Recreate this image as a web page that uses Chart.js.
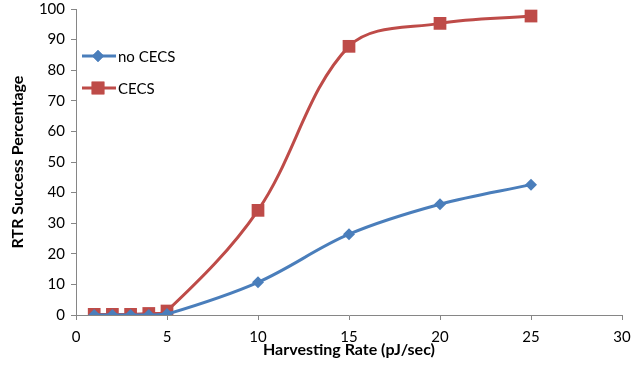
<!DOCTYPE html>
<html>
<head>
<meta charset="utf-8">
<script src="https://cdn.jsdelivr.net/npm/chart.js@4"></script>
<style>
  html, body { margin: 0; padding: 0; background: #fff; }
  #wrap { width: 631px; height: 366px; position: relative; }
</style>
</head>
<body>
<div id="wrap"><canvas id="grafico" width="631" height="366"></canvas></div>
<script>
// datos
const harvestRates = [1, 2, 3, 4, 5, 10, 15, 20, 25];
const noCecs = [0, 0, 0, 0, 0.3, 10.7, 26.4, 36.2, 42.6];
const cecs = [0.2, 0.2, 0.2, 0.5, 1.3, 34.2, 87.8, 95.3, 97.7];
const seriesNames = ['no CECS', 'CECS'];
const xTitle = 'Harvesting Rate (pJ/sec)';
const yTitle = 'RTR Success Percentage';

const BLUE = '#4A7EBB';
const RED = '#BE4B48';
const AXIS = '#868686';
const FONT = 'Lato, "Open Sans", sans-serif';

function toPoints(ys) {
    return harvestRates.map((x, i) => ({ x: x, y: ys[i] }));
}

// leyenda dibujada dentro del area del grafico
const leyendaInterior = {
    id: 'leyendaInterior',
    afterDraw(chart) {
        const ctx = chart.ctx;
        const items = [
            { label: seriesNames[0], color: BLUE, style: 'rectRot', radius: 6, y: 56 },
            { label: seriesNames[1], color: RED, style: 'rect', radius: 9, y: 88 }
        ];
        ctx.save();
        items.forEach(it => {
            ctx.strokeStyle = it.color;
            ctx.lineWidth = 3;
            ctx.beginPath();
            ctx.moveTo(82, it.y);
            ctx.lineTo(116, it.y);
            ctx.stroke();
            ctx.fillStyle = it.color;
            Chart.helpers.drawPoint(ctx, { pointStyle: it.style, radius: it.radius, borderWidth: 0, rotation: 0 }, 98, it.y);
            ctx.fill();
            ctx.fillStyle = '#000';
            ctx.font = '15px ' + FONT;
            ctx.textBaseline = 'middle';
            ctx.textAlign = 'left';
            ctx.fillText(it.label, 118, it.y + 1);
        });
        ctx.restore();
    }
};

new Chart(document.getElementById('grafico').getContext('2d'), {
    type: 'line',
    data: {
        datasets: [{
            label: seriesNames[0],
            data: toPoints(noCecs),
            borderColor: BLUE,
            backgroundColor: BLUE,
            borderWidth: 3,
            pointStyle: 'rectRot',
            pointRadius: 6,
            pointBorderWidth: 0,
            tension: 0.35,
            fill: false
        }, {
            label: seriesNames[1],
            data: toPoints(cecs),
            borderColor: RED,
            backgroundColor: RED,
            borderWidth: 3,
            pointStyle: 'rect',
            pointRadius: 9,
            pointBorderWidth: 0,
            tension: 0.35,
            fill: false
        }]
    },
    options: {
        responsive: false,
        animation: false,
        layout: { padding: { top: 0, right: 4, left: 0, bottom: 0 } },
        scales: {
            x: {
                type: 'linear',
                min: 0, max: 30,
                ticks: { stepSize: 5, color: '#000', font: { family: FONT, size: 15 }, padding: 8, maxRotation: 0 },
                grid: { drawOnChartArea: false, drawTicks: true, tickLength: 5, color: AXIS },
                border: { color: AXIS, width: 1 },
                title: { display: true, text: xTitle, color: '#000', font: { family: FONT, size: 16, weight: 'bold' }, padding: { top: 0, bottom: 7 } },
                afterFit(scale) {
                    scale.height = 51;
                    scale.paddingLeft = 0;
                    scale.paddingRight = 0;
                }
            },
            y: {
                min: 0, max: 100,
                ticks: { stepSize: 10, color: '#000', font: { family: FONT, size: 15, lineHeight: 0.8 }, padding: 6 },
                grid: { drawOnChartArea: false, drawTicks: true, tickLength: 5, color: AXIS },
                border: { color: AXIS, width: 1 },
                title: { display: true, text: yTitle, color: '#000', font: { family: FONT, size: 16, weight: 'bold' }, padding: { top: 8, bottom: 4 } },
                afterFit(scale) {
                    scale.width = 76;
                    scale.paddingTop = 0;
                    scale.paddingBottom = 0;
                }
            }
        },
        plugins: {
            legend: { display: false },
            tooltip: { enabled: false }
        }
    },
    plugins: [leyendaInterior]
});
</script>
</body>
</html>
